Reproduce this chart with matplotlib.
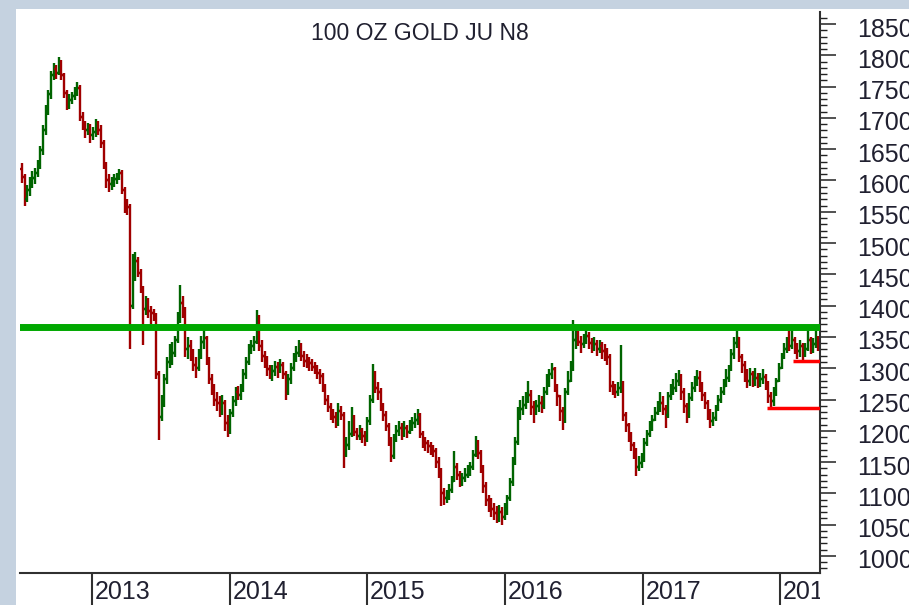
import numpy as np
import pandas as pd
import matplotlib
matplotlib.use('Agg')
import matplotlib.pyplot as plt
import matplotlib.dates as mdates
from matplotlib.collections import LineCollection
from matplotlib.patches import Rectangle
from matplotlib.ticker import MultipleLocator
from matplotlib.transforms import ScaledTranslation, Bbox, TransformedBbox

plt.rcParams['font.family'] = ['Liberation Sans', 'DejaVu Sans']

# weekly bars (week ending Friday)
first_week = '2012-06-29'
first_open = 1618

closes = [
    1605, 1570, 1585, 1598, 1604, 1612, 1625, 1648, 1680, 1712,
    1738, 1768, 1778, 1772, 1790, 1768, 1740, 1720, 1728, 1735,
    1742, 1748, 1702, 1688, 1680, 1684, 1672, 1678, 1690, 1680,
    1660, 1625, 1600, 1595, 1598, 1602, 1606, 1612, 1585, 1565,
    1558, 1400, 1445, 1472, 1452, 1428, 1395, 1405, 1392, 1388,
    1382, 1290, 1222, 1245, 1282, 1310, 1320, 1325, 1345, 1380,
    1405, 1392, 1330, 1335, 1325, 1305, 1300, 1320, 1342, 1348,
    1312, 1282, 1268, 1250, 1245, 1235, 1245, 1212, 1200, 1228,
    1248, 1262, 1258, 1268, 1290, 1310, 1330, 1335, 1342, 1370,
    1335, 1320, 1312, 1298, 1290, 1295, 1302, 1298, 1305, 1290,
    1262, 1282, 1300, 1318, 1325, 1335, 1320, 1312, 1310, 1308,
    1302, 1298, 1292, 1288, 1270, 1250, 1238, 1228, 1222, 1215,
    1232, 1225, 1170, 1178, 1195, 1210, 1198, 1192, 1200, 1192,
    1188, 1215, 1250, 1282, 1268, 1262, 1238, 1225, 1208, 1185,
    1160, 1188, 1200, 1205, 1198, 1205, 1198, 1210, 1212, 1218,
    1225, 1195, 1182, 1180, 1175, 1172, 1168, 1150, 1138, 1100,
    1092, 1095, 1105, 1120, 1142, 1130, 1120, 1125, 1130, 1135,
    1142, 1162, 1178, 1165, 1140, 1112, 1090, 1085, 1075, 1068,
    1065, 1070, 1062, 1072, 1092, 1118, 1150, 1182, 1225, 1235,
    1242, 1250, 1258, 1238, 1232, 1240, 1245, 1240, 1262, 1275,
    1290, 1298, 1270, 1255, 1232, 1215, 1262, 1280, 1300, 1345,
    1352, 1342, 1338, 1345, 1352, 1340, 1336, 1338, 1330, 1335,
    1328, 1325, 1318, 1272, 1268, 1262, 1268, 1275, 1225, 1210,
    1192, 1178, 1168, 1142, 1148, 1155, 1180, 1195, 1205, 1218,
    1228, 1238, 1245, 1235, 1225, 1255, 1262, 1268, 1280, 1288,
    1262, 1240, 1225, 1252, 1268, 1278, 1285, 1272, 1258, 1245,
    1228, 1215, 1220, 1235, 1250, 1262, 1272, 1285, 1300, 1322,
    1340, 1348, 1318, 1305, 1290, 1280, 1290, 1282, 1285, 1278,
    1282, 1286, 1275, 1255, 1248, 1262, 1280, 1300, 1318, 1330,
    1340, 1335, 1345, 1332, 1328, 1335, 1322, 1330, 1345, 1332,
    1338, 1345, 1338,
]

highs = [
    1628, 1610, 1592, 1605, 1615, 1620, 1632, 1655, 1688, 1720,
    1745, 1775, 1788, 1785, 1797, 1792, 1772, 1745, 1738, 1742,
    1750, 1757, 1752, 1710, 1695, 1692, 1690, 1685, 1698, 1695,
    1688, 1665, 1630, 1610, 1606, 1610, 1612, 1618, 1616, 1590,
    1570, 1562, 1482, 1485, 1478, 1458, 1432, 1415, 1412, 1400,
    1395, 1388, 1295, 1258, 1290, 1318, 1338, 1342, 1352, 1390,
    1433, 1415, 1398, 1350, 1345, 1330, 1318, 1330, 1352, 1362,
    1352, 1318, 1290, 1275, 1262, 1255, 1258, 1250, 1225, 1235,
    1255, 1270, 1272, 1275, 1298, 1318, 1338, 1345, 1352, 1393,
    1385, 1345, 1328, 1320, 1305, 1305, 1312, 1310, 1315, 1310,
    1295, 1290, 1308, 1325, 1335, 1345, 1340, 1328, 1322, 1318,
    1315, 1310, 1305, 1298, 1292, 1275, 1258, 1245, 1235, 1230,
    1245, 1240, 1230, 1190, 1215, 1238, 1225, 1205, 1210, 1205,
    1200, 1222, 1258, 1306, 1295, 1278, 1268, 1245, 1232, 1212,
    1190, 1195, 1210, 1215, 1212, 1215, 1210, 1218, 1222, 1228,
    1235, 1228, 1200, 1190, 1185, 1182, 1178, 1172, 1158, 1140,
    1108, 1105, 1115, 1128, 1168, 1148, 1135, 1132, 1140, 1145,
    1150, 1170, 1192, 1185, 1170, 1145, 1118, 1098, 1092, 1085,
    1080, 1082, 1078, 1085, 1098, 1125, 1158, 1190, 1238, 1250,
    1255, 1262, 1280, 1265, 1248, 1250, 1258, 1255, 1270, 1290,
    1298, 1308, 1302, 1275, 1258, 1238, 1268, 1295, 1312, 1377,
    1365, 1360, 1352, 1355, 1365, 1358, 1348, 1350, 1345, 1345,
    1342, 1338, 1332, 1322, 1280, 1275, 1278, 1337, 1280, 1230,
    1212, 1198, 1182, 1172, 1160, 1165, 1188, 1202, 1215, 1225,
    1238, 1248, 1262, 1255, 1242, 1262, 1275, 1282, 1292, 1297,
    1290, 1268, 1245, 1260, 1278, 1288, 1297, 1295, 1278, 1262,
    1250, 1235, 1230, 1242, 1258, 1270, 1282, 1298, 1305, 1330,
    1350, 1359, 1350, 1322, 1312, 1298, 1300, 1295, 1300, 1292,
    1292, 1298, 1290, 1280, 1262, 1270, 1285, 1308, 1325, 1340,
    1350, 1362, 1362, 1350, 1340, 1345, 1340, 1340, 1362, 1350,
    1348, 1362, 1352,
]

lows = [
    1596, 1560, 1565, 1575, 1588, 1595, 1605, 1618, 1640, 1672,
    1705, 1730, 1760, 1762, 1768, 1760, 1732, 1712, 1715, 1722,
    1728, 1735, 1695, 1680, 1668, 1672, 1660, 1665, 1670, 1672,
    1652, 1618, 1588, 1582, 1585, 1590, 1594, 1600, 1578, 1548,
    1545, 1330, 1395, 1440, 1445, 1420, 1337, 1385, 1380, 1370,
    1375, 1282, 1185, 1215, 1238, 1275, 1300, 1305, 1318, 1340,
    1372, 1380, 1318, 1315, 1312, 1295, 1285, 1295, 1315, 1330,
    1305, 1275, 1258, 1240, 1232, 1222, 1225, 1200, 1190, 1195,
    1222, 1240, 1250, 1250, 1262, 1282, 1305, 1322, 1328, 1338,
    1328, 1310, 1300, 1288, 1282, 1280, 1288, 1285, 1292, 1282,
    1250, 1258, 1275, 1295, 1310, 1318, 1312, 1302, 1300, 1295,
    1295, 1290, 1282, 1275, 1262, 1242, 1230, 1218, 1212, 1205,
    1208, 1218, 1140, 1158, 1170, 1190, 1192, 1185, 1185, 1180,
    1175, 1182, 1210, 1245, 1260, 1250, 1232, 1215, 1200, 1175,
    1150, 1155, 1182, 1192, 1185, 1190, 1188, 1195, 1200, 1205,
    1210, 1188, 1172, 1168, 1165, 1162, 1158, 1140, 1125, 1080,
    1082, 1085, 1090, 1100, 1118, 1122, 1110, 1112, 1118, 1125,
    1128, 1138, 1158, 1155, 1132, 1100, 1080, 1070, 1062, 1058,
    1052, 1055, 1050, 1058, 1065, 1088, 1112, 1145, 1178, 1218,
    1225, 1235, 1245, 1225, 1212, 1225, 1230, 1228, 1235, 1258,
    1270, 1282, 1262, 1240, 1215, 1201, 1212, 1258, 1278, 1295,
    1330, 1335, 1325, 1332, 1338, 1330, 1325, 1328, 1320, 1325,
    1315, 1312, 1305, 1262, 1258, 1252, 1255, 1260, 1215, 1198,
    1182, 1168, 1155, 1128, 1135, 1140, 1150, 1175, 1190, 1200,
    1215, 1225, 1230, 1225, 1205, 1220, 1250, 1258, 1262, 1272,
    1250, 1228, 1213, 1220, 1248, 1262, 1272, 1262, 1248, 1235,
    1218, 1205, 1208, 1215, 1232, 1245, 1258, 1270, 1278, 1295,
    1315, 1332, 1310, 1292, 1278, 1268, 1272, 1270, 1272, 1268,
    1270, 1275, 1265, 1245, 1238, 1240, 1255, 1278, 1298, 1315,
    1325, 1328, 1330, 1322, 1315, 1318, 1312, 1318, 1328, 1322,
    1325, 1332, 1328,
]

resistance = 1366
support_levels = [1236, 1311]
support_starts = ['2017-11-28', '2018-02-04']

year_ticks = ['2013-01-01', '2014-01-01', '2015-01-01', '2016-01-01', '2017-01-01', '2018-01-01']
year_labels = ['2013', '2014', '2015', '2016', '2017', '2018']

# build OHLC arrays
dates = pd.date_range(first_week, periods=len(closes), freq='W-FRI')
x = mdates.date2num(dates)
c = np.array(closes, dtype=float)
o = np.concatenate([[first_open], c[:-1]])
h = np.maximum(np.array(highs, dtype=float), np.maximum(o, c))
l = np.minimum(np.array(lows, dtype=float), np.minimum(o, c))

W, H = 909, 605
fig = plt.figure(figsize=(W / 100, H / 100), dpi=100, facecolor='#c5d2e0')
fig.add_artist(Rectangle((16 / W, 0), 1, (H - 9) / H, transform=fig.transFigure,
                         facecolor='white', edgecolor='none', zorder=-1))
ax = fig.add_axes([20 / W, 32 / H, 800 / W, 561 / H])
ax.set_facecolor('white')

up_col, dn_col = '#006400', '#a00000'
hw = 4.5  # tick length in days
segs, cols = [], []
for xi, oi, hi, li, ci in zip(x, o, h, l, c):
    col = up_col if ci >= oi else dn_col
    segs += [[(xi, li), (xi, hi)], [(xi - hw, oi), (xi, oi)], [(xi, ci), (xi + hw, ci)]]
    cols += [col] * 3
ax.add_collection(LineCollection(segs, colors=cols, linewidths=1.7, zorder=2))

ax.set_xlim(mdates.date2num(pd.Timestamp('2012-06-24')), mdates.date2num(pd.Timestamp('2018-04-17')))
ax.set_ylim(972.8, 1869.2)

# resistance / support lines
ax.axhline(resistance, color='#00a800', lw=5, zorder=3)
ax.hlines(support_levels, mdates.date2num(pd.to_datetime(support_starts)), ax.get_xlim()[1],
          colors='#ff0000', lw=2.5, zorder=3)

ax.text(0.5, 1 - 21 / 561, '100 OZ GOLD JU N8', transform=ax.transAxes,
        ha='center', va='center', fontsize=16.5, color='#202030')

# spines
for s in ['left', 'top']:
    ax.spines[s].set_visible(False)
for s in ['right', 'bottom']:
    ax.spines[s].set_linewidth(1.5)
    ax.spines[s].set_color('#303030')

# y axis on the right
ax.yaxis.tick_right()
ax.set_yticks(np.arange(1000, 1851, 50))
ax.yaxis.set_minor_locator(MultipleLocator(10))
ax.tick_params(axis='y', which='major', direction='out', length=11.5, width=1.1,
               pad=15, labelsize=18, labelcolor='#202030', color='#222222')
ax.tick_params(axis='y', which='minor', direction='out', length=5, width=1.0, color='#222222')

# x axis: year separators with labels to the right
ax.set_xticks(mdates.date2num(pd.to_datetime(year_ticks)))
ax.set_xticklabels(year_labels, ha='left')
ax.xaxis.set_minor_locator(plt.NullLocator())
ax.tick_params(axis='x', which='major', direction='out', length=23, width=1.5,
               pad=-18, labelsize=18, labelcolor='#202030', color='#303030')

dx = ScaledTranslation(0.03, 0, fig.dpi_scale_trans)
dy = ScaledTranslation(0, -0.03, fig.dpi_scale_trans)
clip = TransformedBbox(Bbox([[0, 0], [820 / W, 1]]), fig.transFigure)
for lab in ax.get_xticklabels():
    lab.set_transform(lab.get_transform() + dx)
    lab.set_clip_box(clip)
    lab.set_clip_on(True)
for lab in ax.get_yticklabels():
    lab.set_transform(lab.get_transform() + dy)

fig.savefig('out.png', dpi=100, facecolor=fig.get_facecolor())
